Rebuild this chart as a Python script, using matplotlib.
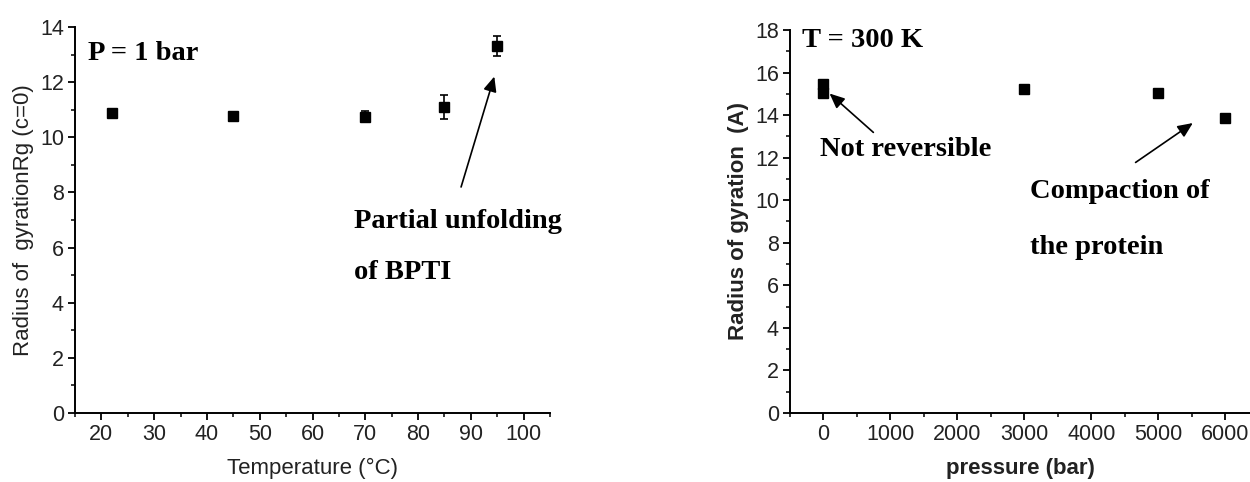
import matplotlib
matplotlib.use("Agg")
import matplotlib.pyplot as plt
from matplotlib.ticker import MultipleLocator

# Left panel data: P = 1 bar
temp_c = [22, 45, 70, 85, 95]
rg_temp = [10.89, 10.78, 10.75, 11.09, 13.31]
rg_temp_err = [0.0, 0.0, 0.2, 0.44, 0.38]

# Right panel data: T = 300 K
pressure_bar = [0, 0, 3000, 5000, 6000]
rg_press = [15.47, 15.03, 15.22, 15.03, 13.85]

sans = ["Liberation Sans", "DejaVu Sans"]
serif = ["Liberation Serif", "DejaVu Serif"]

TICK_FS = 15.5
LABEL_FS = 16
ANN_FS = 20.5

fig = plt.figure(figsize=(12.5, 4.82), dpi=100)
ax1 = fig.add_axes([0.06, 0.1432, 0.38, 0.8008])
ax2 = fig.add_axes([0.632, 0.1432, 0.368, 0.7946])

for ax in (ax1, ax2):
    for s in ("top", "right"):
        ax.spines[s].set_visible(False)
    for s in ("left", "bottom"):
        ax.spines[s].set_linewidth(1.4)
    ax.tick_params(which="major", direction="out", length=5, width=1.3,
                   labelsize=TICK_FS, pad=3, labelcolor="#222222")
    ax.tick_params(which="minor", direction="out", length=3, width=1.1)

arrow_style = dict(arrowstyle="-|>,head_length=0.9,head_width=0.4",
                   color="black", lw=1.2)

# Left panel
ax1.errorbar(temp_c, rg_temp, yerr=rg_temp_err, fmt="s", color="black",
             markersize=6.5, ecolor="black", elinewidth=1.2, capsize=3,
             capthick=1.2)
ax1.set_xlim(15, 105)
ax1.set_ylim(0, 14)
ax1.set_xticks(range(20, 101, 10))
ax1.xaxis.set_minor_locator(MultipleLocator(5))
ax1.yaxis.set_major_locator(MultipleLocator(2))
ax1.yaxis.set_minor_locator(MultipleLocator(1))
ax1.set_xlabel("Temperature (°C)", fontsize=LABEL_FS, family=sans, labelpad=9,
               color="#222222")
ax1.set_ylabel("Radius of  gyrationRg (c=0)", fontsize=LABEL_FS, family=sans,
               labelpad=4, color="#222222")
ax1.text(0.027, 0.965, "P = 1 bar", transform=ax1.transAxes, fontsize=ANN_FS,
         fontweight="bold", family=serif, va="top", ha="left")
ax1.annotate("", xy=(94.6, 12.3), xytext=(88, 8.1), arrowprops=arrow_style)
ax1.text(67.9, 6.93, "Partial unfolding", fontsize=ANN_FS, fontweight="bold",
         family=serif, va="center", ha="left")
ax1.text(67.9, 5.08, "of BPTI", fontsize=ANN_FS, fontweight="bold",
         family=serif, va="center", ha="left")

# Right panel
ax2.plot(pressure_bar, rg_press, "s", color="black", markersize=6.5)
ax2.set_xlim(-500, 6370)
ax2.set_ylim(0, 18)
ax2.set_xticks(range(0, 6001, 1000))
ax2.xaxis.set_minor_locator(MultipleLocator(500))
ax2.yaxis.set_major_locator(MultipleLocator(2))
ax2.yaxis.set_minor_locator(MultipleLocator(1))
ax2.set_xlabel("pressure (bar)", fontsize=LABEL_FS, fontweight="bold",
               family=sans, labelpad=9, color="#222222")
ax2.set_ylabel("Radius of gyration  (A)", fontsize=LABEL_FS, fontweight="bold",
               family=sans, labelpad=4, color="#222222")
ax2.text(0.025, 1.005, "T = 300 K", transform=ax2.transAxes, fontsize=ANN_FS,
         fontweight="bold", family=serif, va="top", ha="left")
ax2.annotate("", xy=(60, 15.1), xytext=(776, 13.1), arrowprops=arrow_style)
ax2.text(-45, 12.4, "Not reversible", fontsize=ANN_FS, fontweight="bold",
         family=serif, va="center", ha="left")
ax2.annotate("", xy=(5550, 13.7), xytext=(4627, 11.7), arrowprops=arrow_style)
ax2.text(3090, 10.4, "Compaction of", fontsize=ANN_FS, fontweight="bold",
         family=serif, va="center", ha="left")
ax2.text(3090, 7.8, "the protein", fontsize=ANN_FS, fontweight="bold",
         family=serif, va="center", ha="left")

for ax in (ax1, ax2):
    for lab in ax.get_xticklabels() + ax.get_yticklabels():
        lab.set_family(sans)

fig.savefig("out.png", dpi=100)
